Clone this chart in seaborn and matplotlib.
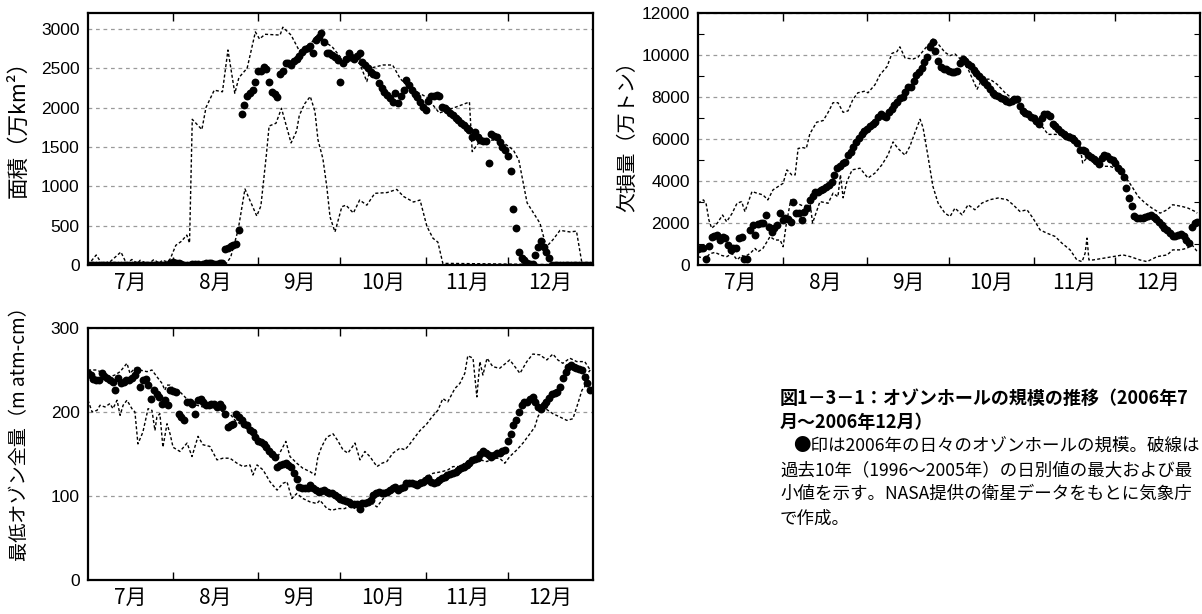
import numpy as np
import matplotlib
matplotlib.use("Agg")
import matplotlib.pyplot as plt
import seaborn as sns

# ---------------------------------------------------------------------------
# Data: day index 0 = 1 July 2006, 183 = 31 December 2006
# ---------------------------------------------------------------------------
month_labels = ["7月", "8月", "9月", "10月", "11月", "12月"]
month_lengths = [31, 31, 30, 31, 30, 31]

# Ozone hole area (10^4 km2), daily 2006 values
area_2006 = [
    0, 0, 0, 0, 0, 0, 0, 0, 0, 0,
    0, 0, 0, 0, 0, 0, 0, 0, 0, 0,
    0, 0, 0, 0, 0, 0, 0, 0, 0, 0,
    30, 35, 30, 20, 10, 5, 0, 5, 10, 15,
    10, 5, 10, 20, 30, 20, 10, 15, 25, 30,
    200, 220, 240, 255, 265, 450, 1920, 2030, 2150, 2190,
    2220, 2330, 2460, 2460, 2510, 2490, 2330, 2200, 2170, 2130,
    2430, 2460, 2560, 2560, 2540, 2590, 2620, 2650, 2700, 2740,
    2760, 2780, 2690, 2860, 2900, 2950, 2830, 2690, 2690, 2670,
    2640, 2600, 2330, 2560, 2620, 2690, 2640, 2620, 2660, 2690,
    2580, 2540, 2500, 2450, 2430, 2410, 2310, 2250, 2200, 2160,
    2120, 2070, 2180, 2060, 2140, 2220, 2350, 2290, 2220, 2170,
    2130, 2070, 2010, 1970, 2080, 2140, 2150, 2160, 2140, 2010,
    1990, 1970, 1930, 1900, 1870, 1840, 1800, 1780, 1740, 1710,
    1630, 1690, 1620, 1590, 1580, 1570, 1300, 1660, 1640, 1620,
    1560, 1500, 1460, 1380, 1190, 710, 470, 165, 90, 64,
    20, 15, 15, 127, 230, 305, 230, 170, 90, 0,
    0, 0, 0, 0, 0, 0, 0, 0, 0, 0,
    0, 0, 0, 0,
]
# 1996-2005 daily maximum / minimum of the area
area_max_day = [0, 3, 5, 8, 12, 14, 16, 18, 19, 22, 24, 26, 27, 29, 30, 32, 34, 36, 37, 38,
                41.5, 43, 46, 49, 51, 53.5, 55, 58, 61, 62.5, 64.5, 70, 71, 74, 77, 80, 83, 85.6, 89, 92,
                95, 99, 101.6, 103, 107.5, 111, 113.7, 117, 123.5, 128, 134.4, 139, 140, 143, 150, 155,
                157, 160, 164.7, 167, 169.4, 172, 175.6, 178, 180, 183]
area_max_val = [0, 127, 20, 40, 165, 20, 70, 20, 60, 10, 70, 20, 60, 40, 80, 250, 300, 380, 280, 1850,
                1720, 2000, 2220, 2200, 2730, 2180, 2380, 2500, 2960, 2870, 2930, 2920, 3020, 2920, 2720,
                2750, 2900, 2850, 2770, 2640, 2600, 2560, 2330, 2500, 2540, 2540, 2370, 2250, 2130, 1930,
                2010, 2070, 1440, 1580, 1590, 1460, 1330, 790, 530, 230, 320, 440, 420, 430, 20, 0]
area_min_day = [0, 50, 52, 54.7, 57.2, 61.5, 63, 65, 66, 68.5, 70.5, 74, 76, 77, 79, 81, 82.7, 83.8,
                85.6, 87, 88.2, 90, 92.5, 94, 96.7, 99, 101.6, 104.5, 109, 112.5, 115, 118.6, 121,
                123.5, 125.7, 127.5, 129.3, 132, 183]
area_min_val = [0, 0, 100, 444, 965, 622, 750, 1400, 1765, 1800, 1990, 1550, 1700, 1900, 2050, 2140,
                1950, 1590, 1350, 1000, 610, 420, 740, 760, 660, 825, 760, 910, 920, 960, 870, 800,
                825, 490, 340, 290, 20, 20, 0]

# Ozone mass deficit (10^4 t), daily 2006 values
mass_2006 = [
    780, 830, 830, 300, 900, 1350, 1400, 1430, 1190, 1350,
    1270, 950, 710, 790, 790, 1270, 1350, 300, 300, 1670,
    1900, 1430, 1950, 1980, 1980, 2380, 1830, 1590, 1750, 1900,
    2460, 2140, 2220, 2200, 2060, 3020, 2460, 2460, 2140, 2540,
    2700, 3100, 3300, 3500, 3500, 3580, 3620, 3700, 3810, 3970,
    4300, 4610, 4700, 4850, 4920, 5230, 5400, 5600, 5850, 6050,
    6250, 6400, 6500, 6620, 6700, 6800, 7030, 7180, 7100, 7050,
    7300, 7420, 7600, 7740, 7970, 8000, 8250, 8500, 8500, 8770,
    9050, 9200, 9400, 9650, 9890, 10400, 10600, 10200, 9730, 9410,
    9330, 9330, 9250, 9170, 9200, 9250, 9600, 9810, 9730, 9570,
    9490, 9300, 9150, 9010, 8850, 8700, 8560, 8370, 8210, 8100,
    8050, 7970, 7890, 7810, 7750, 7810, 7890, 7890, 7570, 7340,
    7250, 7180, 7050, 6980, 6860, 6700, 7000, 7180, 7180, 7100,
    6700, 6600, 6500, 6350, 6250, 6140, 6100, 6060, 5950, 5820,
    5500, 5460, 5420, 5250, 5150, 5050, 4950, 4800, 5100, 5260,
    5180, 5050, 5000, 4860, 4630, 4500, 4200, 3670, 3200, 2800,
    2350, 2250, 2230, 2230, 2280, 2320, 2390, 2300, 2200, 2070,
    1900, 1750, 1650, 1510, 1380, 1400, 1440, 1500, 1400, 1200,
    1040, 1830, 1990, 2070,
]
mass_max_day = [0, 2, 3, 4, 5, 7, 9, 10.5, 12.5, 14.3, 16, 17.2, 19.8, 21.6, 23.8, 25.6, 27.5, 29.3,
                31.2, 32.6, 34.4, 35.6, 36.7, 38.5, 39.7, 41, 43.5, 45.9, 47.7, 49.5, 51.3, 53.2, 55,
                56.8, 58.6, 61.2, 62.3, 64.9, 66.7, 69.3, 71.1, 72.9, 74, 75.9, 78.8, 80.6, 83.2, 86.1,
                88, 90.5, 92.4, 94.2, 96.8, 99, 102.3, 104.1, 107, 109.6, 112.5, 115.5, 118, 121, 124.3,
                126.5, 128.3, 131.6, 135.3, 138.2, 140, 141, 143, 144.8, 146.6, 148.5, 151, 154, 156.5,
                159, 161.3, 163.9, 166.4, 169.4, 172, 174, 177.4, 179.6, 182.2, 183]
mass_max_val = [2950, 3100, 2900, 2140, 1750, 1980, 2380, 2060, 2460, 2940, 3020, 2540, 3500, 3420,
                3340, 3100, 3580, 3730, 3890, 4530, 4290, 4290, 5550, 5590, 5550, 6250, 6800, 6880,
                7270, 7730, 7730, 7270, 7340, 7890, 8200, 8280, 8200, 8590, 9060, 9450, 10080, 10160,
                10390, 9860, 9810, 9890, 10300, 10760, 10530, 10130, 9970, 10050, 9730, 9330, 8370,
                8850, 8850, 8610, 8210, 7890, 7570, 7260, 6860, 6540, 6220, 6220, 6300, 6140, 5660,
                4860, 5180, 5020, 4780, 4700, 4700, 4550, 4230, 3750, 3270, 2950, 2710, 2470, 2630,
                2870, 2790, 2710, 2550, 2470]
mass_min_day = [0, 2.6, 4.4, 6.2, 8.8, 10.6, 12.5, 14.3, 16.1, 17.2, 19.1, 20.9, 22, 23.8, 26.4, 28.2,
                30.1, 31.2, 32.3, 34, 36.3, 39, 41, 42, 44.7, 47.7, 49.5, 51.3, 52.2, 53.2, 54.6, 56.5,
                59.4, 62.3, 64.9, 67.4, 69.6, 71.5, 73.3, 75.9, 77.7, 79.5, 81.4, 82.5, 84.3, 86.1, 88,
                90.5, 92.4, 94.2, 96.8, 99, 101.5, 104.1, 107, 110, 113.3, 115.5, 118, 120.6, 122.8,
                125.4, 128, 130.9, 133.4, 136.4, 138.9, 140.8, 141.9, 142.6, 143.3, 144.8, 148.5, 152.1,
                155.8, 158.4, 162, 164.6, 168.3, 172, 174, 176.8, 179.3, 181.1, 183]
mass_min_val = [400, 300, 540, 600, 450, 400, 550, 250, 450, 400, 550, 790, 630, 790, 1350, 1190, 1190,
                870, 1900, 3100, 2940, 2780, 3020, 2000, 3020, 2940, 3420, 3250, 4300, 3200, 3980, 4530,
                4610, 4140, 4380, 4770, 5230, 5860, 5550, 5230, 5660, 6300, 6940, 6540, 5180, 3750, 2950,
                2470, 2310, 2710, 2390, 2870, 2630, 2950, 3110, 3190, 3110, 2870, 2550, 2630, 2230, 1670,
                1510, 1360, 1040, 720, 240, 160, 560, 1280, 240, 240, 320, 400, 480, 400, 240, 160, 400,
                480, 720, 720, 800, 960, 640]

# Minimum total ozone (m atm-cm), daily 2006 values
ozone_2006 = [
    246, 244, 239, 238, 238, 246, 243, 240, 238, 236,
    226, 240, 234, 236, 238, 238, 240, 244, 250, 230,
    238, 239, 232, 216, 226, 222, 218, 210, 214, 208,
    226, 225, 224, 198, 194, 190, 212, 212, 210, 198,
    214, 216, 212, 208, 208, 210, 209, 206, 210, 206,
    198, 182, 184, 186, 198, 194, 190, 186, 184, 178,
    176, 170, 166, 164, 162, 158, 154, 150, 146, 135,
    137, 138, 139, 137, 135, 127, 120, 111, 109, 109,
    109, 113, 110, 107, 105, 106, 107, 105, 104, 103,
    101, 99, 97, 95, 94, 93, 91, 91, 91, 85,
    92, 92, 93, 95, 101, 103, 105, 104, 103, 105,
    107, 109, 111, 107, 109, 111, 115, 115, 115, 114,
    113, 115, 117, 119, 121, 117, 115, 117, 119, 121,
    123, 125, 126, 127, 129, 131, 133, 135, 137, 139,
    143, 144, 145, 150, 153, 151, 149, 147, 149, 151,
    151, 153, 155, 166, 174, 184, 191, 200, 208, 212,
    212, 215, 218, 212, 206, 204, 208, 212, 217, 222,
    223, 224, 230, 240, 248, 253, 256, 254, 252, 251,
    250, 242, 234, 226,
]
ozone_max_day = [0, 3.3, 4.4, 8, 9.8, 11.7, 14.2, 15.3, 17.1, 18.9, 21.5, 23.3, 25.1, 27, 28, 28.8,
                 29.9, 31.7, 33.5, 35.3, 37.2, 39.7, 41.9, 44.4, 47, 49.2, 51.7, 53.6, 55.4, 57.9, 60,
                 62.7, 65.2, 67.4, 69.2, 72.1, 73.6, 76.1, 78.3, 80.9, 82.7, 83.8, 85.2, 87, 89.3, 91,
                 92.9, 94.7, 97.3, 99.1, 100.9, 102.7, 105.3, 107.1, 108.9, 111.1, 113.7, 115.5, 117.3,
                 119.1, 121, 123.5, 125.3, 127.5, 129.3, 131.1, 133.7, 135.5, 137.3, 138.4, 140.3,
                 141.7, 142.8, 143.9, 145.4, 147.5, 150, 153.7, 157.4, 159.9, 162.1, 164.7, 167.2,
                 169.4, 171.2, 173, 175.6, 178.1, 181, 183]
ozone_max_val = [250, 250, 248, 242, 244, 248, 258, 246, 252, 250, 248, 250, 242, 234, 226, 232, 232,
                 226, 224, 218, 210, 208, 206, 206, 204, 200, 198, 190, 186, 180, 174, 168, 158, 150,
                 147, 165, 147, 139, 133, 129, 125, 147, 159, 170, 174, 166, 155, 151, 163, 143, 153,
                 147, 135, 139, 141, 151, 157, 155, 162, 170, 178, 186, 194, 202, 216, 212, 228, 234,
                 246, 267, 264, 218, 260, 244, 264, 254, 252, 262, 246, 260, 269, 268, 262, 269, 262,
                 258, 264, 260, 260, 250]
ozone_min_day = [0, 1.5, 3.3, 4.4, 6.2, 8, 9.1, 10.6, 11.7, 12.8, 14.2, 16, 17.1, 18.2, 20, 21.9, 23.3,
                 24.4, 25.1, 26.2, 27.3, 28.8, 29.9, 31, 33.5, 36.1, 37.9, 40.1, 41.9, 44.4, 47, 49.2,
                 51.7, 54.3, 56.5, 59, 60.1, 61.6, 63.8, 66.3, 68.9, 71, 72.5, 74.3, 76.1, 78.3, 80.9,
                 83.4, 84.5, 87.1, 88.9, 91.1, 93.6, 95.4, 97.3, 99.1, 100.9, 102.7, 105.3, 107.1,
                 108.9, 111.1, 113.7, 116.2, 118.4, 121, 123.5, 125.7, 129, 131.1, 133, 135.5, 138,
                 140.3, 142.8, 145.4, 147.5, 150, 151.9, 153.7, 156.3, 158.5, 161, 162.8, 163.9, 165.8,
                 167.6, 169.4, 172, 174.5, 176.7, 178.5, 180, 181, 182.1, 183]
ozone_min_val = [214, 200, 202, 208, 206, 210, 204, 214, 196, 208, 214, 204, 200, 162, 176, 204, 202,
                 178, 194, 198, 158, 186, 174, 158, 153, 163, 147, 171, 161, 159, 143, 145, 145, 139,
                 135, 137, 125, 137, 131, 117, 107, 115, 117, 97, 103, 97, 93, 91, 95, 85, 83, 85, 85,
                 89, 85, 81, 93, 93, 87, 95, 103, 105, 109, 111, 113, 119, 123, 127, 129, 131, 135, 135,
                 141, 145, 143, 141, 145, 145, 139, 147, 155, 163, 174, 182, 194, 206, 202, 198, 194,
                 190, 192, 210, 226, 230, 246, 250]

# Caption
caption_title = ["図1－3－1：オゾンホールの規模の推移（2006年7", "月～2006年12月）"]
caption_body = [
    "●印は2006年の日々のオゾンホールの規模。破線は",
    "過去10年（1996～2005年）の日別値の最大および最",
    "小値を示す。NASA提供の衛星データをもとに気象庁",
    "で作成。",
]

# ---------------------------------------------------------------------------
sns.set_style("white")
plt.rcParams["font.family"] = ["Liberation Sans", "Noto Sans CJK JP", "DejaVu Sans"]
CJK = ["Noto Sans CJK JP", "DejaVu Sans"]

month_starts = np.cumsum([0] + month_lengths)
month_mids = (month_starts[:-1] + month_starts[1:]) / 2.0
n_days = int(month_starts[-1])

fig = plt.figure(figsize=(12.02, 6.14), dpi=100)
ax_area = fig.add_axes([0.0732, 0.5684, 0.4201, 0.4104])
ax_mass = fig.add_axes([0.5807, 0.5684, 0.4176, 0.4104])
ax_ozone = fig.add_axes([0.0732, 0.0554, 0.4201, 0.4104])

DASH = (0, (2.2, 1.6))


def draw_panel(ax, daily, max_day, max_val, min_day, min_val):
    days = np.arange(len(daily))
    sns.lineplot(x=max_day, y=max_val, ax=ax, color="black", lw=1.0,
                 linestyle=DASH, estimator=None, sort=False, zorder=3)
    sns.lineplot(x=min_day, y=min_val, ax=ax, color="black", lw=1.0,
                 linestyle=DASH, estimator=None, sort=False, zorder=3)
    sns.scatterplot(x=days, y=daily, ax=ax, color="black", s=32,
                    linewidth=0, zorder=4)


def style_panel(ax, ymax, yticks, ylabel, label_size, label_xy, minor_y=None):
    ax.set_xlim(0, n_days)
    ax.set_ylim(0, ymax)
    ax.set_xticks(month_starts[1:-1])
    ax.set_xticklabels([])
    ax.set_xticks(month_mids, minor=True)
    ax.set_xticklabels(month_labels, minor=True, fontfamily=CJK, fontsize=15)
    ax.tick_params(axis="x", which="major", direction="in", length=6, width=1.0,
                   top=True, bottom=True, color="black")
    ax.tick_params(axis="x", which="minor", length=0, pad=5, labelcolor="black")
    ax.set_yticks(yticks)
    ax.set_yticklabels([str(v) for v in yticks], fontsize=12.5)
    ax.tick_params(axis="y", which="major", length=0, pad=6, labelcolor="black")
    if minor_y is not None:
        ax.set_yticks(minor_y, minor=True)
        ax.tick_params(axis="y", which="minor", direction="in", length=4, width=0.8,
                       left=True, right=True, color="black")
    ax.yaxis.grid(True, which="major", color="#9a9a9a", lw=0.9, linestyle=(0, (3, 3)))
    ax.xaxis.grid(False)
    ax.set_axisbelow(True)
    for sp in ax.spines.values():
        sp.set_visible(True)
        sp.set_color("black")
        sp.set_linewidth(1.6)
    ax.set_xlabel("")
    ax.set_ylabel(ylabel, fontfamily=CJK, fontsize=label_size, color="black")
    ax.yaxis.set_label_coords(*label_xy)


draw_panel(ax_area, area_2006, area_max_day, area_max_val, area_min_day, area_min_val)
style_panel(ax_area, 3200, list(range(0, 3001, 500)), "面積（万km²）", 15.5, (-0.115, 0.56))

draw_panel(ax_mass, mass_2006, mass_max_day, mass_max_val, mass_min_day, mass_min_val)
style_panel(ax_mass, 12000, list(range(0, 12001, 2000)), "欠損量（万トン）", 14.5, (-0.12, 0.53),
            minor_y=list(range(1000, 12000, 2000)))

draw_panel(ax_ozone, ozone_2006, ozone_max_day, ozone_max_val, ozone_min_day, ozone_min_val)
style_panel(ax_ozone, 300, [0, 100, 200, 300], "最低オゾン全量（m atm-cm）", 13.8, (-0.115, 0.60))

# Caption block
W, H = 1202.0, 614.0
title_y = [398, 422]
for txt, y in zip(caption_title, title_y):
    fig.text(780 / W, 1 - y / H, txt, fontfamily=CJK, fontsize=13, fontweight="bold",
             ha="left", va="center", color="black")
body_x = [793, 780, 780, 780]
body_y = [446, 470, 494, 519]
for txt, x, y in zip(caption_body, body_x, body_y):
    fig.text(x / W, 1 - y / H, txt, fontfamily=CJK, fontsize=12.6,
             ha="left", va="center", color="black")

fig.savefig("out.png", dpi=100)
